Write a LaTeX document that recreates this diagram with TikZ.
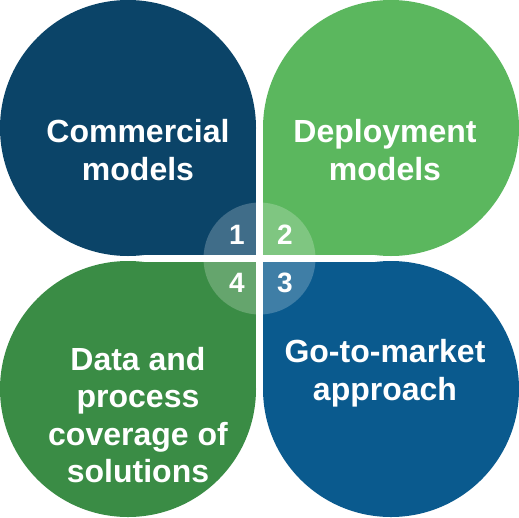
\documentclass[tikz,border=0pt]{standalone}
\usepackage{fontspec}
\setmainfont{Liberation Sans}
\definecolor{cTL}{HTML}{0B4468}
\definecolor{cTR}{HTML}{5BB75E}
\definecolor{cBR}{HTML}{0A5A8E}
\definecolor{cBL}{HTML}{3A8C45}
\begin{document}
\begin{tikzpicture}[x=1pt,y=-1pt,
  label/.style={text=white,font=\bfseries\fontsize{32}{37.5}\selectfont,align=center,inner sep=0pt},
  num/.style={text=white,font=\bfseries\fontsize{28}{30}\selectfont,inner sep=0pt}]
\useasboundingbox (0,0) rectangle (519,517);
% petals
\fill[cTL] (128,128) circle[radius=128pt];
\fill[cTL] (128,128) rectangle (256,255);
\fill[cTR] (391,128) circle[radius=128pt];
\fill[cTR] (263,128) rectangle (391,255);
\fill[cBR] (391,389) circle[radius=128pt];
\fill[cBR] (263,262) rectangle (391,389);
\fill[cBL] (128,389) circle[radius=128pt];
\fill[cBL] (128,262) rectangle (256,389);
% centre overlay
\fill[white,opacity=0.22] (259.5,258.5) circle[radius=56pt];
\fill[white] (256,190) rectangle (263,330);
\fill[white] (190,255) rectangle (330,262);
% numbers
\node[num] (n1) at (237,235) {1};
\node[num] (n2) at (285,235) {2};
\node[num] (n3) at (285,283) {3};
\node[num] (n4) at (237,283) {4};
% labels
\node[label] (tl) at (138,150) {Commercial\\models};
\node[label] (tr) at (385,150) {Deployment\\models};
\node[label] (br) at (385,373) {Go-to-market\\approach};
\node[label] (bl) at (138,415) {Data and\\process\\coverage of\\solutions};
\end{tikzpicture}
\end{document}
